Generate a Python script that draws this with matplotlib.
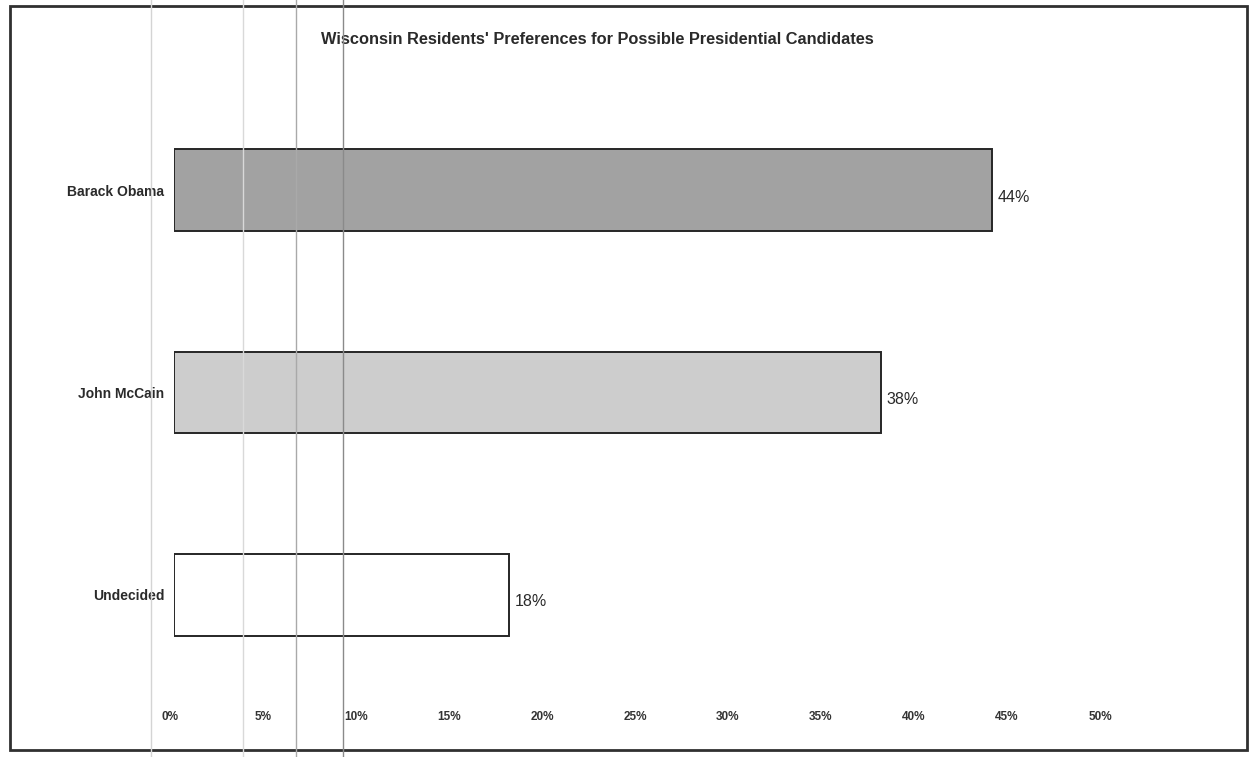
import matplotlib
matplotlib.use("Agg")
import matplotlib.pyplot as plt
from matplotlib.patches import Rectangle
from matplotlib.lines import Line2D
from matplotlib.transforms import ScaledTranslation
from matplotlib import font_manager

# Poll results
candidates = ["Barack Obama", "John McCain", "Undecided"]
shares = [44, 38, 18]
bar_colors = ["#a2a2a2", "#cdcdcd", "#ffffff"]
tick_values = [0, 5, 10, 15, 20, 25, 30, 35, 40, 45, 50]
tick_labels = [f"{v}%" for v in tick_values]
title = "Wisconsin Residents' Preferences for Possible Presidential Candidates"

plt.rcParams["font.family"] = ["Liberation Sans", "DejaVu Sans"]
text_color = "#2a2a2a"

installed = {f.name for f in font_manager.fontManager.ttflist}
tick_family = ["Liberation Sans Narrow"] if "Liberation Sans Narrow" in installed else ["Liberation Sans"]
tick_size = 10 if tick_family[0] == "Liberation Sans Narrow" else 8.5

W, H = 1250, 757
fig = plt.figure(figsize=(W / 100, H / 100), dpi=100)
fig.patch.set_facecolor("white")

# axes placed in pixel terms: 0% at x=174, 50% at x=1104
left_px, right_px = 174, 1104
top_px, bottom_px = 89, 696
ax = fig.add_axes([left_px / W, 1 - bottom_px / H,
                   (right_px - left_px) / W, (bottom_px - top_px) / H])

ypos = list(range(len(candidates)))
ax.barh(ypos, shares, height=0.405, color=bar_colors,
        edgecolor="#262626", linewidth=1.4, zorder=2)

for y, v in zip(ypos, shares):
    ax.annotate(f"{v}%", (v, y), xytext=(4, -5), textcoords="offset points",
                ha="left", va="center", fontsize=11.5, color=text_color)

ax.set_xlim(0, 50)
ax.set_ylim(len(candidates) - 0.5, -0.5)
ax.set_xticks(tick_values)
ax.set_xticklabels(tick_labels, fontsize=tick_size, fontweight="bold",
                   color="#333333", family=tick_family)
ax.set_yticks(ypos)
ax.set_yticklabels(candidates, fontsize=10, fontweight="bold", color=text_color)
ax.tick_params(axis="x", length=0, pad=11)
ax.tick_params(axis="y", length=0, pad=7)
shift = ScaledTranslation(-4 / 100, 0, fig.dpi_scale_trans)
for lbl in ax.get_xticklabels():
    lbl.set_transform(lbl.get_transform() + shift)
for s in ax.spines.values():
    s.set_visible(False)
ax.set_facecolor("none")

fig.text(597 / W, 1 - 40 / H, title, ha="center", va="center",
         fontsize=11.8, fontweight="bold", color=text_color)

# page frame
fig.add_artist(Rectangle((10 / W, 1 - 750 / H), (1247 - 10) / W, (750 - 6) / H,
                         transform=fig.transFigure, fill=False,
                         edgecolor="#303030", linewidth=2.0, zorder=5))

# faint vertical rules across the page
for xp, col in [(151, "#d4d4d4"), (243, "#d9d9d9"), (296, "#a9a9a9"), (343, "#8a8a8a")]:
    fig.add_artist(Line2D([xp / W, xp / W], [0, 1], transform=fig.transFigure,
                          color=col, linewidth=1.0, zorder=6))

fig.savefig("out.png", dpi=100, facecolor="white")
